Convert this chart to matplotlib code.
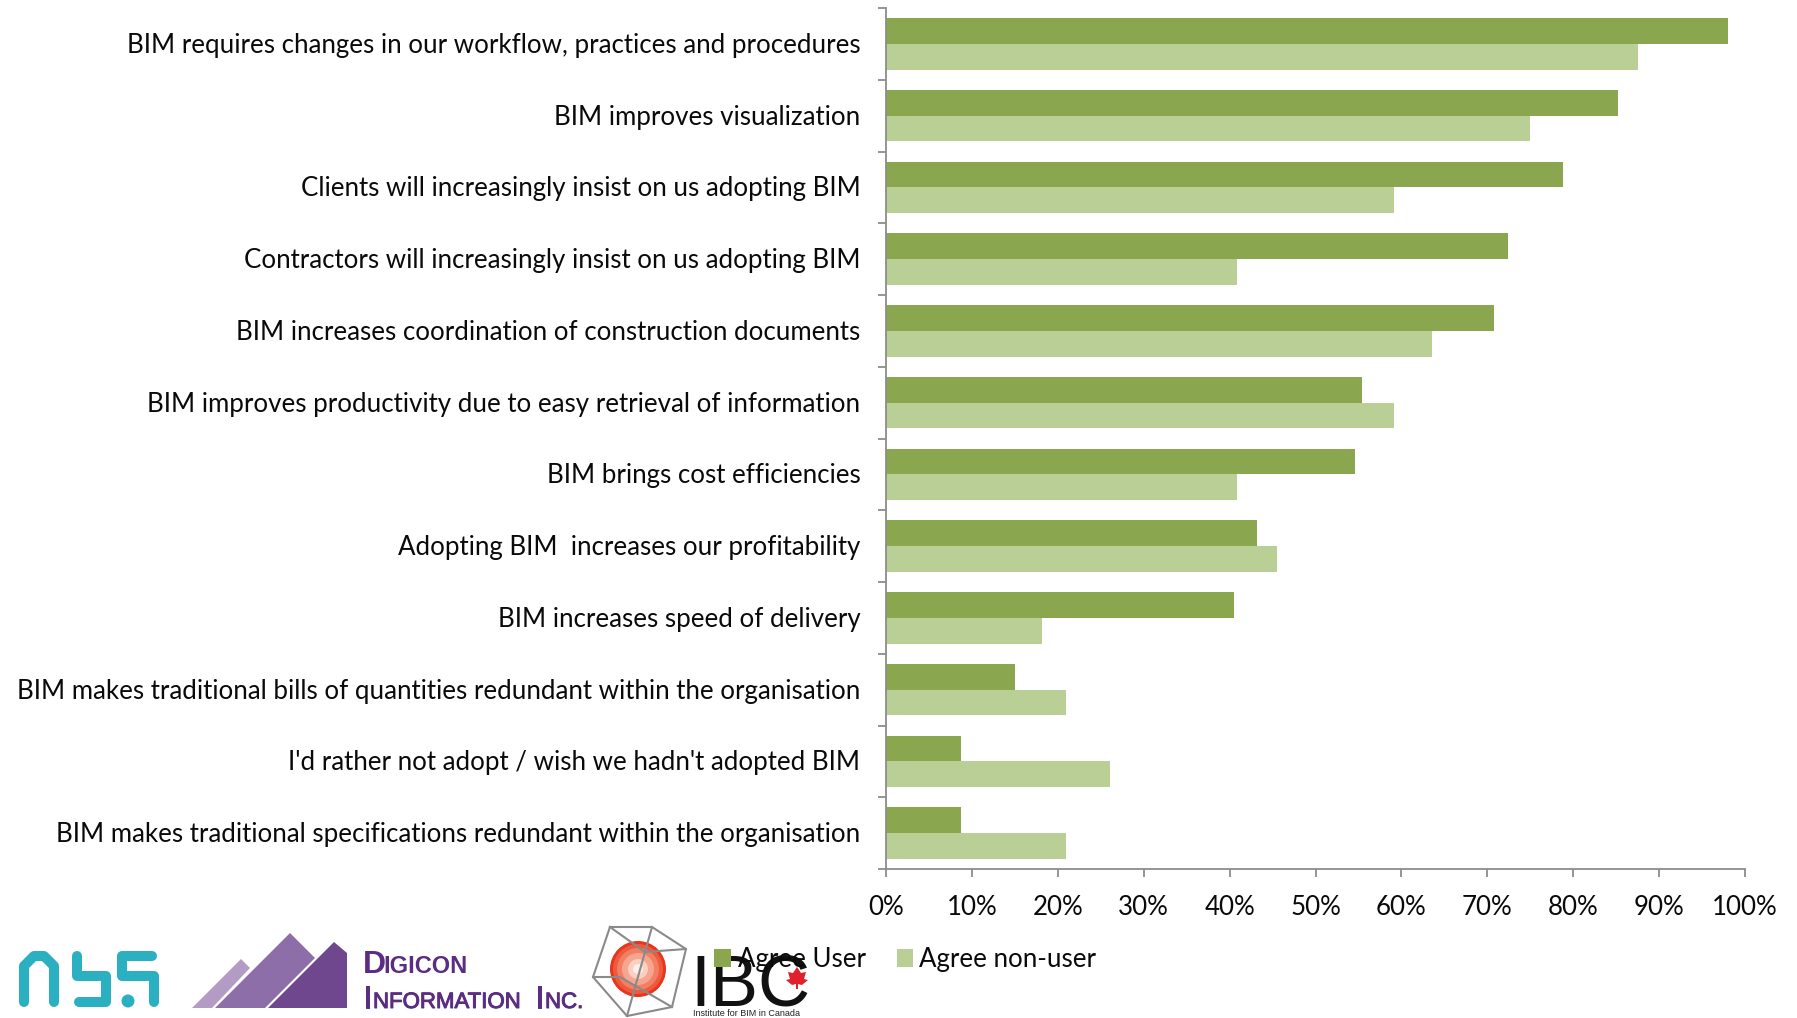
import matplotlib
matplotlib.use("Agg")
import matplotlib.pyplot as plt
from matplotlib.patches import Polygon, Rectangle, Circle
from matplotlib.lines import Line2D
import matplotlib.patheffects as pe
import numpy as np

plt.rcParams['font.family'] = ['Lato', 'DejaVu Sans']

categories = ["BIM requires changes in our workflow, practices and procedures",
              "BIM improves visualization",
              "Clients will increasingly insist on us adopting BIM",
              "Contractors will increasingly insist on us adopting BIM",
              "BIM increases coordination of construction documents",
              "BIM improves productivity due to easy retrieval of information",
              "BIM brings cost efficiencies",
              "Adopting BIM  increases our profitability",
              "BIM increases speed of delivery",
              "BIM makes traditional bills of quantities redundant within the organisation",
              "I'd rather not adopt / wish we hadn't adopted BIM",
              "BIM makes traditional specifications redundant within the organisation"]
agree_user = [98, 85.2, 78.8, 72.4, 70.8, 55.4, 54.6, 43.2, 40.5, 15, 8.7, 8.7]
agree_non_user = [87.5, 75, 59.1, 40.9, 63.6, 59.1, 40.9, 45.5, 18.2, 21, 26.1, 21]
x_ticks = list(range(0, 101, 10))

W, H = 1797, 1018
C1, C2 = '#8aa64f', '#b9cf96'
INK = '#0a0a0a'
FS = 18.6
fig = plt.figure(figsize=(W/100, H/100), dpi=100)
ax = fig.add_axes([886/W, 1-869/H, (1745-886)/W, (869-8)/H])
y = np.arange(len(categories))
ax.barh(y-0.18, agree_user, 0.36, color=C1)
ax.barh(y+0.18, agree_non_user, 0.36, color=C2)
ax.set_xlim(0, 100)
ax.set_ylim(len(categories)-0.5, -0.5)
for s in ('top', 'right'):
    ax.spines[s].set_visible(False)
for s in ('left', 'bottom'):
    ax.spines[s].set_color('#8c8c8c')
    ax.spines[s].set_linewidth(1.3)
ax.set_xticks(x_ticks)
ax.set_xticklabels([f"{v}%" for v in x_ticks], fontsize=FS, color=INK)
ax.set_yticks(np.arange(len(categories)+1)-0.5)
ax.set_yticklabels([])
ax.tick_params(axis='both', color='#8c8c8c', width=1.3, length=6)
ax.tick_params(axis='x', pad=12.5)
for yi, c in zip(y, categories):
    ax.annotate(c, (0, yi), xytext=(-18.5, -1), textcoords='offset points', ha='right', va='center',
                fontsize=FS, color=INK)

# full-figure overlay in pixel coordinates for logos and legend
ov = fig.add_axes([0, 0, 1, 1], facecolor='none')
ov.set_xlim(0, W); ov.set_ylim(H, 0); ov.axis('off')

# nbs logo
teal = '#2bb0c1'
for pts in ([(24, 1002), (24, 966), (34, 956), (44, 956), (54, 966), (54, 1002)],
            [(77, 956), (77, 976), (106, 976), (106, 1002), (79, 1002)],
            [(152, 956), (122, 956), (122, 976), (154, 976), (154, 1002)]):
    ov.add_line(Line2D(*zip(*pts), color=teal, lw=7.2, solid_capstyle='round', solid_joinstyle='round'))
ov.add_patch(Circle((128, 1001), 6.5, color=teal, lw=0))

# Digicon logo
ov.add_patch(Polygon([(192, 1008), (241, 959), (250, 968), (212, 1008)], color='#b39bc6', lw=0))
ov.add_patch(Polygon([(215, 1008), (290, 933), (315, 958), (265, 1008)], color='#8d6ea8', lw=0))
ov.add_patch(Polygon([(268, 1008), (334, 942), (347, 953), (347, 1008)], color='#6f478e', lw=0))
purple = '#5a2d82'
fat = [pe.withStroke(linewidth=0.7, foreground=purple)]
LS = dict(color=purple, va='baseline', family='Liberation Sans')
ov.text(363, 973, "D", fontsize=23, fontweight='bold', **LS)
ov.text(383, 973, "IGICON", fontsize=17, fontweight='bold', **LS)
ov.text(363, 1008, "I", fontsize=23, path_effects=fat, **LS)
ov.text(373, 1008, "NFORMATION", fontsize=16, path_effects=fat, **LS)
ov.text(535, 1008, "I", fontsize=23, path_effects=fat, **LS)
ov.text(545, 1008, "NC.", fontsize=16, path_effects=fat, **LS)

# IBC logo
for r, c in ((28, '#e8351f'), (25, '#ee5a3c'), (21, '#f27f63'), (16, '#f6a68f'), (10, '#fad0c2'), (5, '#fdeee8')):
    ov.add_patch(Circle((638, 969), r, color=c, lw=0))
for pts in ([(610, 927), (652, 927), (686, 949), (672, 1007), (627, 1016), (593, 977), (610, 927)],
            [(610, 927), (645, 952), (686, 949)], [(652, 927), (645, 952), (627, 1016)],
            [(593, 977), (620, 977), (672, 1007)]):
    ov.add_line(Line2D(*zip(*pts), color='#8a8a8a', lw=1.5))
ov.text(690, 1006, "IBC", fontsize=52, color='#111111', va='baseline', family=['Liberation Sans Narrow', 'Liberation Sans'])
ov.add_patch(Polygon([(797, 967), (801, 973), (806, 972), (804, 979), (808, 980), (802, 985), (798, 984), (798, 989),
                      (796, 989), (796, 984), (792, 985), (786, 980), (790, 979), (788, 972), (793, 973)],
                     color='#e0202a', lw=0))
ov.text(693, 1013, "Institute for BIM in Canada", fontsize=6.5, color='#222222', va='center', family='Liberation Sans')

# legend
ov.add_patch(Rectangle((714, 949), 17, 18, color=C1, lw=0, zorder=5))
ov.text(738, 959, "Agree User", fontsize=FS, color=INK, va='center', zorder=6)
ov.add_patch(Rectangle((897, 949), 16, 18, color=C2, lw=0, zorder=5))
ov.text(919, 959, "Agree non-user", fontsize=FS, color=INK, va='center', zorder=6)

fig.savefig("out.png", dpi=100)
